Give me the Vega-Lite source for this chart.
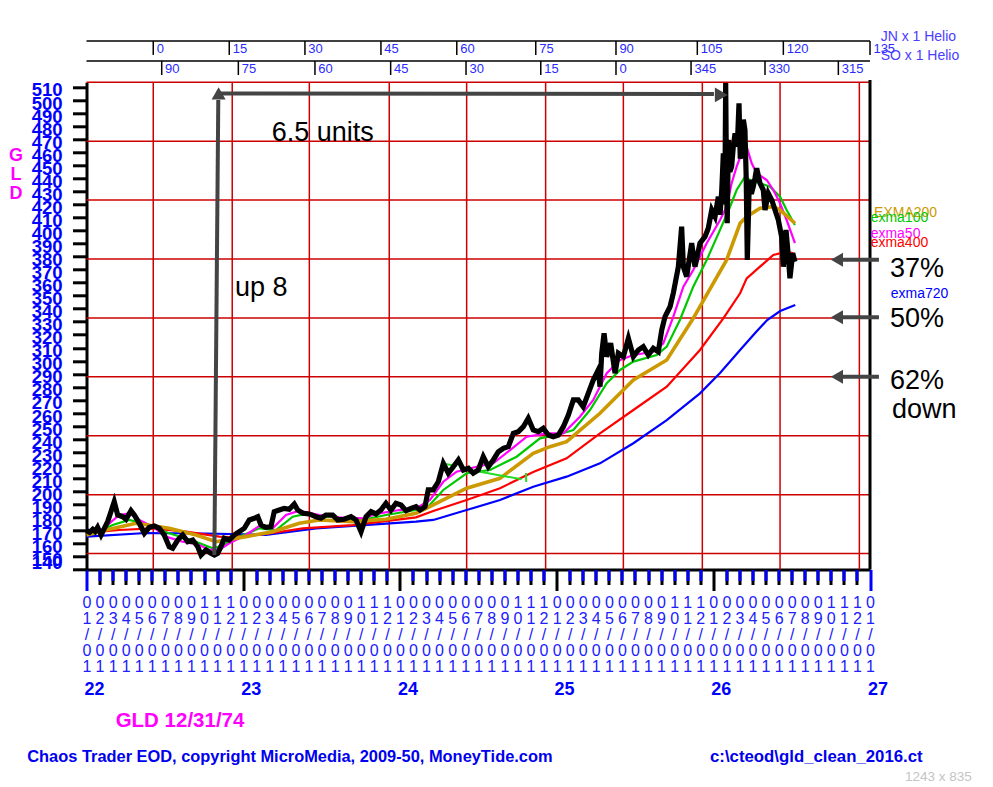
{
  "$schema": "https://vega.github.io/schema/vega-lite/v6.json",
  "width": 783.5,
  "height": 487.2,
  "autosize": {"type": "none"},
  "padding": {"left": 86.5, "top": 82.3, "right": 123, "bottom": 217.5},
  "background": "white",
  "config": {
    "font": "Liberation Sans",
    "view": {"stroke": null},
    "axis": {"labelFont": "Liberation Sans", "titleFont": "Liberation Sans"},
    "text": {"font": "Liberation Sans"}
  },
  "data": {"values": [{}]},
  "datasets": {
    "price": [
      {"t":22.0,"p":169.8},{"t":22.020,"p":168.5},{"t":22.040,"p":170.8},{"t":22.055,"p":169.2},{"t":22.071,"p":172.4},{"t":22.093,"p":166.5},{"t":22.114,"p":171.6},{"t":22.135,"p":176.7},{"t":22.156,"p":184.3},{"t":22.177,"p":192.0},{"t":22.199,"p":181.8},{"t":22.231,"p":180.5},{"t":22.252,"p":178.5},{"t":22.284,"p":185.1},{"t":22.305,"p":181.8},{"t":22.337,"p":175.4},{"t":22.369,"p":167.8},{"t":22.401,"p":172.4},{"t":22.433,"p":173.4},{"t":22.465,"p":171.6},{"t":22.496,"p":166.5},{"t":22.528,"p":157.5},{"t":22.550,"p":156.3},{"t":22.582,"p":162.6},{"t":22.614,"p":166.5},{"t":22.646,"p":161.3},{"t":22.678,"p":162.6},{"t":22.710,"p":157.5},{"t":22.731,"p":151.1},{"t":22.763,"p":155.0},{"t":22.794,"p":152.4},{"t":22.816,"p":151.1},{"t":22.837,"p":152.4},{"t":22.858,"p":157.5},{"t":22.879,"p":163.9},{"t":22.911,"p":162.6},{"t":22.943,"p":166.5},{"t":22.975,"p":169.0},{"t":23.007,"p":171.6},{"t":23.039,"p":178.0},{"t":23.071,"p":179.3},{"t":23.093,"p":180.5},{"t":23.114,"p":174.1},{"t":23.145,"p":172.4},{"t":23.177,"p":172.8},{"t":23.198,"p":184.3},{"t":23.230,"p":185.6},{"t":23.262,"p":186.9},{"t":23.294,"p":186.2},{"t":23.326,"p":190.2},{"t":23.348,"p":185.6},{"t":23.380,"p":183.1},{"t":23.422,"p":182.6},{"t":23.465,"p":180.5},{"t":23.496,"p":179.3},{"t":23.528,"p":181.8},{"t":23.571,"p":181.8},{"t":23.603,"p":178.0},{"t":23.645,"p":178.5},{"t":23.688,"p":180.5},{"t":23.720,"p":178.0},{"t":23.752,"p":169.0},{"t":23.784,"p":180.5},{"t":23.816,"p":184.3},{"t":23.847,"p":182.6},{"t":23.879,"p":185.6},{"t":23.911,"p":190.8},{"t":23.943,"p":185.6},{"t":23.975,"p":190.8},{"t":24.007,"p":189.5},{"t":24.039,"p":185.1},{"t":24.071,"p":186.9},{"t":24.103,"p":188.2},{"t":24.128,"p":185.6},{"t":24.160,"p":188.2},{"t":24.181,"p":201.0},{"t":24.213,"p":201.0},{"t":24.245,"p":207.3},{"t":24.277,"p":221.4},{"t":24.309,"p":213.8},{"t":24.341,"p":218.8},{"t":24.373,"p":224.0},{"t":24.405,"p":216.3},{"t":24.437,"p":217.6},{"t":24.468,"p":213.8},{"t":24.500,"p":216.3},{"t":24.532,"p":226.5},{"t":24.564,"p":218.8},{"t":24.596,"p":224.0},{"t":24.628,"p":230.3},{"t":24.660,"p":232.9},{"t":24.692,"p":234.2},{"t":24.724,"p":244.4},{"t":24.756,"p":245.7},{"t":24.788,"p":249.5},{"t":24.819,"p":256.0},{"t":24.851,"p":247.0},{"t":24.883,"p":245.7},{"t":24.915,"p":248.3},{"t":24.947,"p":243.1},{"t":24.979,"p":241.8},{"t":25.011,"p":243.1},{"t":25.043,"p":249.5},{"t":25.075,"p":258.5},{"t":25.107,"p":270.0},{"t":25.138,"p":270.0},{"t":25.170,"p":264.8},{"t":25.202,"p":275.1},{"t":25.234,"p":285.3},{"t":25.266,"p":293.0},{"t":25.277,"p":280.2},{"t":25.288,"p":305.8},{"t":25.303,"p":321.1},{"t":25.320,"p":303.2},{"t":25.345,"p":313.5},{"t":25.373,"p":290.5},{"t":25.394,"p":305.8},{"t":25.426,"p":303.2},{"t":25.458,"p":317.3},{"t":25.490,"p":303.2},{"t":25.521,"p":308.3},{"t":25.553,"p":310.9},{"t":25.585,"p":304.5},{"t":25.617,"p":309.6},{"t":25.649,"p":307.0},{"t":25.671,"p":323.7},{"t":25.692,"p":333.9},{"t":25.724,"p":341.5},{"t":25.745,"p":352.0},{"t":25.777,"p":372.2},{"t":25.798,"p":402.9},{"t":25.809,"p":372.2},{"t":25.830,"p":364.5},{"t":25.862,"p":390.2},{"t":25.883,"p":372.2},{"t":25.915,"p":390.2},{"t":25.947,"p":395.2},{"t":25.968,"p":401.7},{"t":25.990,"p":415.7},{"t":26.011,"p":410.6},{"t":26.032,"p":425.9},{"t":26.043,"p":412.0},{"t":26.054,"p":431.0},{"t":26.064,"p":459.2},{"t":26.070,"p":420.0},{"t":26.075,"p":443.8},{"t":26.079,"p":513.0},{"t":26.084,"p":440.0},{"t":26.089,"p":405.5},{"t":26.096,"p":469.4},{"t":26.106,"p":445.0},{"t":26.117,"p":448.9},{"t":26.128,"p":465.0},{"t":26.139,"p":474.5},{"t":26.153,"p":464.2},{"t":26.164,"p":497.5},{"t":26.172,"p":455.0},{"t":26.181,"p":464.2},{"t":26.192,"p":485.0},{"t":26.202,"p":477.0},{"t":26.210,"p":440.0},{"t":26.217,"p":377.4},{"t":26.230,"p":438.7},{"t":26.243,"p":428.0},{"t":26.255,"p":433.6},{"t":26.266,"p":440.0},{"t":26.277,"p":447.7},{"t":26.298,"p":436.2},{"t":26.319,"p":431.0},{"t":26.330,"p":415.7},{"t":26.351,"p":428.5},{"t":26.373,"p":423.4},{"t":26.394,"p":415.7},{"t":26.415,"p":408.0},{"t":26.436,"p":395.2},{"t":26.447,"p":372.2},{"t":26.464,"p":400.4},{"t":26.479,"p":379.9},{"t":26.489,"p":363.3},{"t":26.507,"p":382.5},{"t":26.521,"p":376.0}
    ],
    "ema": [
      {"s":"exma720","t":22.0,"p":165.2},{"s":"exma720","t":22.380,"p":168.0},{"s":"exma720","t":22.763,"p":167.6},{"s":"exma720","t":23.145,"p":166.5},{"s":"exma720","t":23.465,"p":171.6},{"s":"exma720","t":23.699,"p":173.4},{"s":"exma720","t":24.103,"p":176.7},{"s":"exma720","t":24.213,"p":178.0},{"s":"exma720","t":24.426,"p":185.6},{"s":"exma720","t":24.639,"p":193.3},{"s":"exma720","t":24.851,"p":203.5},{"s":"exma720","t":25.064,"p":211.2},{"s":"exma720","t":25.277,"p":221.4},{"s":"exma720","t":25.490,"p":236.8},{"s":"exma720","t":25.703,"p":254.6},{"s":"exma720","t":25.915,"p":275.1},{"s":"exma720","t":26.043,"p":290.7},{"s":"exma720","t":26.171,"p":308.3},{"s":"exma720","t":26.267,"p":321.4},{"s":"exma720","t":26.344,"p":331.3},{"s":"exma720","t":26.427,"p":338.2},{"s":"exma720","t":26.523,"p":342.8},
      {"s":"exma400","t":22.0,"p":168.0},{"s":"exma400","t":22.209,"p":170.3},{"s":"exma400","t":22.422,"p":171.6},{"s":"exma400","t":22.635,"p":169.0},{"s":"exma400","t":22.847,"p":165.2},{"s":"exma400","t":22.909,"p":164.9},{"s":"exma400","t":23.145,"p":167.2},{"s":"exma400","t":23.380,"p":171.6},{"s":"exma400","t":23.699,"p":174.1},{"s":"exma400","t":24.103,"p":180.0},{"s":"exma400","t":24.213,"p":184.9},{"s":"exma400","t":24.426,"p":193.3},{"s":"exma400","t":24.639,"p":202.3},{"s":"exma400","t":24.851,"p":214.8},{"s":"exma400","t":25.064,"p":225.3},{"s":"exma400","t":25.277,"p":244.4},{"s":"exma400","t":25.490,"p":262.3},{"s":"exma400","t":25.703,"p":280.2},{"s":"exma400","t":25.915,"p":308.3},{"s":"exma400","t":26.064,"p":332.6},{"s":"exma400","t":26.171,"p":351.8},{"s":"exma400","t":26.213,"p":363.3},{"s":"exma400","t":26.298,"p":372.2},{"s":"exma400","t":26.383,"p":381.2},{"s":"exma400","t":26.468,"p":383.7},{"s":"exma400","t":26.511,"p":382.5},
      {"s":"exma200","t":22.0,"p":166.5},{"s":"exma200","t":22.124,"p":170.3},{"s":"exma200","t":22.316,"p":175.4},{"s":"exma200","t":22.528,"p":171.6},{"s":"exma200","t":22.699,"p":166.5},{"s":"exma200","t":22.826,"p":161.3},{"s":"exma200","t":22.890,"p":162.6},{"s":"exma200","t":23.018,"p":165.2},{"s":"exma200","t":23.188,"p":169.0},{"s":"exma200","t":23.358,"p":175.4},{"s":"exma200","t":23.486,"p":178.0},{"s":"exma200","t":23.699,"p":176.7},{"s":"exma200","t":23.911,"p":178.5},{"s":"exma200","t":24.103,"p":183.1},{"s":"exma200","t":24.213,"p":189.5},{"s":"exma200","t":24.426,"p":202.3},{"s":"exma200","t":24.639,"p":209.9},{"s":"exma200","t":24.851,"p":229.1},{"s":"exma200","t":24.958,"p":234.2},{"s":"exma200","t":25.064,"p":238.0},{"s":"exma200","t":25.277,"p":259.8},{"s":"exma200","t":25.490,"p":285.3},{"s":"exma200","t":25.703,"p":300.7},{"s":"exma200","t":25.872,"p":332.6},{"s":"exma200","t":26.085,"p":377.4},{"s":"exma200","t":26.171,"p":405.5},{"s":"exma200","t":26.213,"p":410.6},{"s":"exma200","t":26.298,"p":417.0},{"s":"exma200","t":26.383,"p":418.2},{"s":"exma200","t":26.426,"p":415.7},{"s":"exma200","t":26.521,"p":405.5},
      {"s":"exma100","t":22.03,"p":167.5},{"s":"exma100","t":22.061,"p":168.2},{"s":"exma100","t":22.167,"p":174.1},{"s":"exma100","t":22.273,"p":178.0},{"s":"exma100","t":22.359,"p":175.4},{"s":"exma100","t":22.528,"p":167.8},{"s":"exma100","t":22.699,"p":161.3},{"s":"exma100","t":22.805,"p":156.3},{"s":"exma100","t":22.847,"p":157.5},{"s":"exma100","t":22.954,"p":163.9},{"s":"exma100","t":23.103,"p":171.6},{"s":"exma100","t":23.209,"p":170.3},{"s":"exma100","t":23.316,"p":180.5},{"s":"exma100","t":23.401,"p":182.6},{"s":"exma100","t":23.613,"p":179.3},{"s":"exma100","t":23.763,"p":178.0},{"s":"exma100","t":23.911,"p":181.8},{"s":"exma100","t":24.103,"p":185.6},{"s":"exma100","t":24.171,"p":186.9},{"s":"exma100","t":24.277,"p":201.0},{"s":"exma100","t":24.426,"p":213.8},{"s":"exma100","t":24.575,"p":216.3},{"s":"exma100","t":24.745,"p":226.5},{"s":"exma100","t":24.894,"p":240.6},{"s":"exma100","t":25.001,"p":243.1},{"s":"exma100","t":25.107,"p":247.0},{"s":"exma100","t":25.213,"p":262.3},{"s":"exma100","t":25.320,"p":282.8},{"s":"exma100","t":25.405,"p":293.0},{"s":"exma100","t":25.490,"p":299.4},{"s":"exma100","t":25.639,"p":304.5},{"s":"exma100","t":25.703,"p":310.9},{"s":"exma100","t":25.787,"p":331.3},{"s":"exma100","t":25.872,"p":356.9},{"s":"exma100","t":25.958,"p":377.4},{"s":"exma100","t":26.043,"p":400.4},{"s":"exma100","t":26.107,"p":418.2},{"s":"exma100","t":26.149,"p":431.0},{"s":"exma100","t":26.202,"p":441.2},{"s":"exma100","t":26.234,"p":438.7},{"s":"exma100","t":26.298,"p":436.2},{"s":"exma100","t":26.362,"p":433.6},{"s":"exma100","t":26.426,"p":425.9},{"s":"exma100","t":26.468,"p":415.7},{"s":"exma100","t":26.521,"p":404.2},
      {"s":"exma50","t":22.05,"p":168.0},{"s":"exma50","t":22.082,"p":169.0},{"s":"exma50","t":22.146,"p":175.4},{"s":"exma50","t":22.209,"p":181.8},{"s":"exma50","t":22.273,"p":183.1},{"s":"exma50","t":22.337,"p":178.0},{"s":"exma50","t":22.422,"p":172.8},{"s":"exma50","t":22.507,"p":165.2},{"s":"exma50","t":22.614,"p":161.3},{"s":"exma50","t":22.720,"p":158.8},{"s":"exma50","t":22.784,"p":155.0},{"s":"exma50","t":22.847,"p":155.0},{"s":"exma50","t":22.911,"p":160.1},{"s":"exma50","t":23.018,"p":166.5},{"s":"exma50","t":23.103,"p":173.4},{"s":"exma50","t":23.188,"p":171.6},{"s":"exma50","t":23.273,"p":181.8},{"s":"exma50","t":23.358,"p":185.1},{"s":"exma50","t":23.486,"p":181.8},{"s":"exma50","t":23.613,"p":180.0},{"s":"exma50","t":23.763,"p":179.3},{"s":"exma50","t":23.869,"p":183.1},{"s":"exma50","t":23.996,"p":185.6},{"s":"exma50","t":24.103,"p":186.9},{"s":"exma50","t":24.192,"p":193.3},{"s":"exma50","t":24.277,"p":207.3},{"s":"exma50","t":24.362,"p":215.0},{"s":"exma50","t":24.490,"p":218.8},{"s":"exma50","t":24.596,"p":221.4},{"s":"exma50","t":24.703,"p":231.6},{"s":"exma50","t":24.809,"p":241.8},{"s":"exma50","t":24.937,"p":244.4},{"s":"exma50","t":25.043,"p":244.4},{"s":"exma50","t":25.149,"p":257.2},{"s":"exma50","t":25.234,"p":270.0},{"s":"exma50","t":25.320,"p":290.5},{"s":"exma50","t":25.405,"p":300.7},{"s":"exma50","t":25.490,"p":304.5},{"s":"exma50","t":25.617,"p":307.0},{"s":"exma50","t":25.681,"p":313.5},{"s":"exma50","t":25.745,"p":333.9},{"s":"exma50","t":25.809,"p":356.9},{"s":"exma50","t":25.872,"p":369.7},{"s":"exma50","t":25.958,"p":390.2},{"s":"exma50","t":26.043,"p":408.0},{"s":"exma50","t":26.085,"p":418.2},{"s":"exma50","t":26.117,"p":436.2},{"s":"exma50","t":26.149,"p":448.9},{"s":"exma50","t":26.181,"p":459.2},{"s":"exma50","t":26.213,"p":464.2},{"s":"exma50","t":26.245,"p":451.5},{"s":"exma50","t":26.277,"p":443.8},{"s":"exma50","t":26.341,"p":438.7},{"s":"exma50","t":26.383,"p":431.0},{"s":"exma50","t":26.426,"p":420.8},{"s":"exma50","t":26.468,"p":408.0},{"s":"exma50","t":26.521,"p":390.2}
    ],
    "glitch": [
      {"seg":"a","t":24.267,"p":221.4},{"seg":"a","t":24.352,"p":219.6},
      {"seg":"b","t":24.511,"p":215.0},{"seg":"b","t":24.777,"p":209.2},
      {"seg":"c","t":24.805,"p":214.0},{"seg":"c","t":24.806,"p":207.1}
    ],
    "vgrid": [
      {"t":22.426},{"t":22.930},{"t":23.422},{"t":23.932},{"t":24.426},{"t":24.930},{"t":25.426},{"t":25.930},{"t":26.426},{"t":26.932}
    ],
    "hgrid": [
      {"p":513.6},{"p":468.4},{"p":423.3},{"p":378.1},{"p":332.9},{"p":287.8},{"p":242.6},{"p":197.4},{"p":152.3}
    ],
    "scale1": [
      {"t":22.426,"a":"0"},{"t":22.911,"a":"15"},{"t":23.394,"a":"30"},{"t":23.879,"a":"45"},{"t":24.363,"a":"60"},{"t":24.867,"a":"75"},{"t":25.379,"a":"90"},{"t":25.898,"a":"105"},{"t":26.447,"a":"120"},{"t":27.0,"a":"135"}
    ],
    "scale2": [
      {"t":22.480,"a":"90"},{"t":22.969,"a":"75"},{"t":23.458,"a":"60"},{"t":23.941,"a":"45"},{"t":24.422,"a":"30"},{"t":24.899,"a":"15"},{"t":25.379,"a":"0"},{"t":25.858,"a":"345"},{"t":26.330,"a":"330"},{"t":26.798,"a":"315"}
    ],
    "levels": [
      {"pct":"37%","p":377.5},{"pct":"50%","p":333.4},{"pct":"62%","p":287.8}
    ]
  },
  "resolve": {"axis": {"x": "independent", "y": "independent"}},
  "layer": [
    {
      "data": {"name": "vgrid"},
      "mark": {"type": "rule", "color": "#cc0000", "strokeWidth": 1.5},
      "encoding": {
        "x": {"field": "t", "type": "quantitative", "scale": {"domain": [22, 27], "nice": false, "zero": false},
          "axis": {"orient": "bottom", "title": null, "grid": false, "labels": false, "domain": true, "domainColor": "black", "domainWidth": 3,
            "tickSize": 15, "tickWidth": 3, "tickColor": "black",
            "values": [22.0833,22.1667,22.25,22.3333,22.4167,22.5,22.5833,22.6667,22.75,22.8333,22.9167,23.0833,23.1667,23.25,23.3333,23.4167,23.5,23.5833,23.6667,23.75,23.8333,23.9167,24.0833,24.1667,24.25,24.3333,24.4167,24.5,24.5833,24.6667,24.75,24.8333,24.9167,25.0833,25.1667,25.25,25.3333,25.4167,25.5,25.5833,25.6667,25.75,25.8333,25.9167,26.0833,26.1667,26.25,26.3333,26.4167,26.5,26.5833,26.6667,26.75,26.8333,26.9167]}}
      }
    },
    {
      "data": {"name": "hgrid"},
      "mark": {"type": "rule", "color": "#cc0000", "strokeWidth": 1.5},
      "encoding": {
        "y": {"field": "p", "type": "quantitative", "scale": {"domain": [140, 513.6], "nice": false, "zero": false}, "axis": null}
      }
    },
    {
      "data": {"name": "ema"},
      "transform": [{"filter": "datum.s != 'exma200'"}],
      "mark": {"type": "line", "strokeWidth": 2.2},
      "encoding": {
        "x": {"field": "t", "type": "quantitative", "scale": {"domain": [22, 27], "nice": false, "zero": false},
          "axis": {"orient": "bottom", "title": null, "grid": false, "labels": false, "domain": false, "zindex": 1,
            "tickSize": 11, "tickWidth": 3, "tickColor": "#0000ff",
            "values": [22.0833,22.1667,22.25,22.3333,22.4167,22.5,22.5833,22.6667,22.75,22.8333,22.9167,23.0833,23.1667,23.25,23.3333,23.4167,23.5,23.5833,23.6667,23.75,23.8333,23.9167,24.0833,24.1667,24.25,24.3333,24.4167,24.5,24.5833,24.6667,24.75,24.8333,24.9167,25.0833,25.1667,25.25,25.3333,25.4167,25.5,25.5833,25.6667,25.75,25.8333,25.9167,26.0833,26.1667,26.25,26.3333,26.4167,26.5,26.5833,26.6667,26.75,26.8333,26.9167]}},
        "y": {"field": "p", "type": "quantitative", "scale": {"domain": [140, 513.6], "nice": false, "zero": false}, "axis": null},
        "color": {"field": "s", "type": "nominal", "legend": null,
          "scale": {"domain": ["exma720", "exma400", "exma200", "exma100", "exma50"], "range": ["#0000ff", "#ff0000", "#cc9900", "#00c800", "#ff00ff"]}}
      }
    },
    {
      "data": {"name": "ema"},
      "transform": [{"filter": "datum.s == 'exma200'"}],
      "mark": {"type": "line", "strokeWidth": 3.6, "color": "#cc9900"},
      "encoding": {
        "x": {"field": "t", "type": "quantitative", "scale": {"domain": [22, 27], "nice": false, "zero": false}, "axis": null},
        "y": {"field": "p", "type": "quantitative", "scale": {"domain": [140, 513.6], "nice": false, "zero": false}, "axis": null}
      }
    },
    {
      "data": {"name": "glitch"},
      "mark": {"type": "line", "strokeWidth": 2, "color": "#22dd22"},
      "encoding": {
        "x": {"field": "t", "type": "quantitative", "scale": {"domain": [22, 27], "nice": false, "zero": false},
          "axis": {"orient": "bottom", "title": null, "grid": false, "domain": false, "ticks": true, "tickSize": 15, "tickOpacity": 0,
            "labelExpr": "split(format(round((datum.value - floor(datum.value + 0.001)) * 12) + 1, '02d') + '/01', '')",
            "labelFontSize": 16, "labelLineHeight": 15.8, "labelColor": "#2020ff", "labelAlign": "center", "labelBaseline": "top",
            "labelPadding": 10.4, "labelOverlap": false, "labelFlush": false, "labelBound": false,
            "values": [22,22.0833,22.1667,22.25,22.3333,22.4167,22.5,22.5833,22.6667,22.75,22.8333,22.9167,23,23.0833,23.1667,23.25,23.3333,23.4167,23.5,23.5833,23.6667,23.75,23.8333,23.9167,24,24.0833,24.1667,24.25,24.3333,24.4167,24.5,24.5833,24.6667,24.75,24.8333,24.9167,25,25.0833,25.1667,25.25,25.3333,25.4167,25.5,25.5833,25.6667,25.75,25.8333,25.9167,26,26.0833,26.1667,26.25,26.3333,26.4167,26.5,26.5833,26.6667,26.75,26.8333,26.9167,27]}},
        "y": {"field": "p", "type": "quantitative", "scale": {"domain": [140, 513.6], "nice": false, "zero": false}, "axis": null},
        "detail": {"field": "seg", "type": "nominal"}
      }
    },
    {
      "data": {"name": "price"},
      "mark": {"type": "line", "strokeWidth": 5.2, "color": "black", "strokeJoin": "miter"},
      "encoding": {
        "x": {"field": "t", "type": "quantitative", "scale": {"domain": [22, 27], "nice": false, "zero": false},
          "axis": {"orient": "bottom", "title": null, "grid": false, "domain": false, "format": "d",
            "values": [22, 23, 24, 25, 26, 27],
            "tickSize": 21, "tickWidth": 3,
            "tickColor": {"condition": {"test": "datum.value == 22 || datum.value == 27", "value": "#0000ff"}, "value": "black"},
            "labelFontSize": 18, "labelFontWeight": "bold", "labelColor": "#0000ff", "labelAlign": "left", "labelOffset": -2.5,
            "labelPadding": 89.9, "labelBaseline": "top", "labelFlush": false, "labelOverlap": false, "labelBound": false}},
        "y": {"field": "p", "type": "quantitative", "scale": {"domain": [140, 513.6], "nice": false, "zero": false},
          "axis": {"orient": "left", "grid": false,
            "values": [140,150,160,170,180,190,200,210,220,230,240,250,260,270,280,290,300,310,320,330,340,350,360,370,380,390,400,410,420,430,440,450,460,470,480,490,500,510],
            "labelColor": "#0000ff", "labelFontSize": 18.5, "labelFontWeight": "bold", "labelPadding": 10.5, "labelOffset": 3,
            "labelBaseline": {"condition": {"test": "datum.value == 140", "value": "bottom"}, "value": "middle"},
            "labelOverlap": false, "labelBound": false, "labelFlush": false,
            "tickColor": "black", "tickWidth": 3, "tickSize": 14, "domainColor": "black", "domainWidth": 3,
            "title": ["G", "L", "D"], "titleAngle": 0, "titleColor": "#ff00ff", "titleFontSize": 18, "titleFontWeight": "bold",
            "titleLineHeight": 19, "titleAlign": "center", "titleBaseline": "top", "titleX": -71, "titleY": 64}}
      }
    },
    {
      "mark": {"type": "rule", "color": "black", "strokeWidth": 3},
      "encoding": {
        "x": {"datum": 27, "type": "quantitative", "scale": {"domain": [22, 27], "nice": false, "zero": false}, "axis": null},
        "y": {"datum": 140, "type": "quantitative", "scale": {"domain": [140, 513.6], "nice": false, "zero": false}, "axis": null},
        "y2": {"datum": 515.4}
      }
    },
    {
      "mark": {"type": "rule", "color": "black", "strokeWidth": 1.5},
      "encoding": {
        "x": {"datum": 22, "type": "quantitative", "scale": {"domain": [22, 27], "nice": false, "zero": false}, "axis": null},
        "x2": {"datum": 27},
        "y": {"datum": 545.3, "type": "quantitative", "scale": {"domain": [140, 513.6], "nice": false, "zero": false}, "axis": null}
      }
    },
    {
      "mark": {"type": "rule", "color": "black", "strokeWidth": 1.5},
      "encoding": {
        "x": {"datum": 22, "type": "quantitative", "scale": {"domain": [22, 27], "nice": false, "zero": false}, "axis": null},
        "x2": {"datum": 27},
        "y": {"datum": 530.0, "type": "quantitative", "scale": {"domain": [140, 513.6], "nice": false, "zero": false}, "axis": null}
      }
    },
    {
      "data": {"name": "scale1"},
      "mark": {"type": "rule", "color": "black", "strokeWidth": 1.5},
      "encoding": {
        "x": {"field": "t", "type": "quantitative", "scale": {"domain": [22, 27], "nice": false, "zero": false}, "axis": null},
        "y": {"datum": 545.3, "type": "quantitative", "scale": {"domain": [140, 513.6], "nice": false, "zero": false}, "axis": null},
        "y2": {"datum": 534.6}
      }
    },
    {
      "data": {"name": "scale1"},
      "mark": {"type": "text", "align": "left", "baseline": "alphabetic", "dx": 3.4, "fontSize": 13, "color": "#2a2aff"},
      "encoding": {
        "x": {"field": "t", "type": "quantitative", "scale": {"domain": [22, 27], "nice": false, "zero": false}, "axis": null},
        "y": {"datum": 535.9, "type": "quantitative", "scale": {"domain": [140, 513.6], "nice": false, "zero": false}, "axis": null},
        "text": {"field": "a", "type": "nominal"}
      }
    },
    {
      "data": {"name": "scale2"},
      "mark": {"type": "rule", "color": "black", "strokeWidth": 1.5},
      "encoding": {
        "x": {"field": "t", "type": "quantitative", "scale": {"domain": [22, 27], "nice": false, "zero": false}, "axis": null},
        "y": {"datum": 530.0, "type": "quantitative", "scale": {"domain": [140, 513.6], "nice": false, "zero": false}, "axis": null},
        "y2": {"datum": 519.2}
      }
    },
    {
      "data": {"name": "scale2"},
      "mark": {"type": "text", "align": "left", "baseline": "alphabetic", "dx": 3.4, "fontSize": 13, "color": "#2a2aff"},
      "encoding": {
        "x": {"field": "t", "type": "quantitative", "scale": {"domain": [22, 27], "nice": false, "zero": false}, "axis": null},
        "y": {"datum": 520.5, "type": "quantitative", "scale": {"domain": [140, 513.6], "nice": false, "zero": false}, "axis": null},
        "text": {"field": "a", "type": "nominal"}
      }
    },
    {
      "mark": {"type": "rule", "color": "#444444", "strokeWidth": 4},
      "encoding": {
        "x": {"datum": 22.816, "type": "quantitative", "scale": {"domain": [22, 27], "nice": false, "zero": false}, "axis": null},
        "x2": {"datum": 22.841},
        "y": {"datum": 151.1, "type": "quantitative", "scale": {"domain": [140, 513.6], "nice": false, "zero": false}, "axis": null},
        "y2": {"datum": 500.1}
      }
    },
    {
      "mark": {"type": "rule", "color": "#444444", "strokeWidth": 4},
      "encoding": {
        "x": {"datum": 22.831, "type": "quantitative", "scale": {"domain": [22, 27], "nice": false, "zero": false}, "axis": null},
        "x2": {"datum": 26.004},
        "y": {"datum": 505.1, "type": "quantitative", "scale": {"domain": [140, 513.6], "nice": false, "zero": false}, "axis": null},
        "y2": {"datum": 504.6}
      }
    },
    {
      "mark": {"type": "point", "shape": "triangle-up", "filled": true, "opacity": 1, "size": 196, "color": "#444444"},
      "encoding": {
        "x": {"datum": 22.843, "type": "quantitative", "scale": {"domain": [22, 27], "nice": false, "zero": false}, "axis": null},
        "y": {"datum": 505.1, "type": "quantitative", "scale": {"domain": [140, 513.6], "nice": false, "zero": false}, "axis": null}
      }
    },
    {
      "mark": {"type": "point", "shape": "triangle-right", "filled": true, "opacity": 1, "size": 220, "color": "#444444"},
      "encoding": {
        "x": {"datum": 26.051, "type": "quantitative", "scale": {"domain": [22, 27], "nice": false, "zero": false}, "axis": null},
        "y": {"datum": 503.9, "type": "quantitative", "scale": {"domain": [140, 513.6], "nice": false, "zero": false}, "axis": null}
      }
    },
    {
      "data": {"name": "levels"},
      "mark": {"type": "rule", "color": "#444444", "strokeWidth": 4},
      "encoding": {
        "x": {"datum": 26.827, "type": "quantitative", "scale": {"domain": [22, 27], "nice": false, "zero": false}, "axis": null},
        "x2": {"datum": 27.057},
        "y": {"field": "p", "type": "quantitative", "scale": {"domain": [140, 513.6], "nice": false, "zero": false}, "axis": null}
      }
    },
    {
      "data": {"name": "levels"},
      "mark": {"type": "point", "shape": "triangle-left", "filled": true, "opacity": 1, "size": 196, "color": "#444444"},
      "encoding": {
        "x": {"datum": 26.789, "type": "quantitative", "scale": {"domain": [22, 27], "nice": false, "zero": false}, "axis": null},
        "y": {"field": "p", "type": "quantitative", "scale": {"domain": [140, 513.6], "nice": false, "zero": false}, "axis": null}
      }
    },
    {
      "mark": {"type": "text", "text": "6.5 units", "align": "left", "baseline": "alphabetic", "fontSize": 27, "color": "black"},
      "encoding": {
        "x": {"datum": 23.182, "type": "quantitative", "scale": {"domain": [22, 27], "nice": false, "zero": false}, "axis": null},
        "y": {"datum": 468.6, "type": "quantitative", "scale": {"domain": [140, 513.6], "nice": false, "zero": false}, "axis": null}
      }
    },
    {
      "mark": {"type": "text", "text": "up 8", "align": "left", "baseline": "alphabetic", "fontSize": 27, "color": "black"},
      "encoding": {
        "x": {"datum": 22.948, "type": "quantitative", "scale": {"domain": [22, 27], "nice": false, "zero": false}, "axis": null},
        "y": {"datum": 349.7, "type": "quantitative", "scale": {"domain": [140, 513.6], "nice": false, "zero": false}, "axis": null}
      }
    },
    {
      "mark": {"type": "text", "text": "37%", "align": "left", "baseline": "alphabetic", "fontSize": 27, "color": "black"},
      "encoding": {
        "x": {"datum": 27.128, "type": "quantitative", "scale": {"domain": [22, 27], "nice": false, "zero": false}, "axis": null},
        "y": {"datum": 364.5, "type": "quantitative", "scale": {"domain": [140, 513.6], "nice": false, "zero": false}, "axis": null}
      }
    },
    {
      "mark": {"type": "text", "text": "50%", "align": "left", "baseline": "alphabetic", "fontSize": 27, "color": "black"},
      "encoding": {
        "x": {"datum": 27.128, "type": "quantitative", "scale": {"domain": [22, 27], "nice": false, "zero": false}, "axis": null},
        "y": {"datum": 326.0, "type": "quantitative", "scale": {"domain": [140, 513.6], "nice": false, "zero": false}, "axis": null}
      }
    },
    {
      "mark": {"type": "text", "text": "62%", "align": "left", "baseline": "alphabetic", "fontSize": 27, "color": "black"},
      "encoding": {
        "x": {"datum": 27.128, "type": "quantitative", "scale": {"domain": [22, 27], "nice": false, "zero": false}, "axis": null},
        "y": {"datum": 278.4, "type": "quantitative", "scale": {"domain": [140, 513.6], "nice": false, "zero": false}, "axis": null}
      }
    },
    {
      "mark": {"type": "text", "text": "down", "align": "left", "baseline": "alphabetic", "fontSize": 27, "color": "black"},
      "encoding": {
        "x": {"datum": 27.140, "type": "quantitative", "scale": {"domain": [22, 27], "nice": false, "zero": false}, "axis": null},
        "y": {"datum": 256.2, "type": "quantitative", "scale": {"domain": [140, 513.6], "nice": false, "zero": false}, "axis": null}
      }
    },
    {
      "mark": {"type": "text", "text": "EXMA200", "align": "left", "baseline": "alphabetic", "fontSize": 14, "color": "#cc9900"},
      "encoding": {
        "x": {"datum": 27.026, "type": "quantitative", "scale": {"domain": [22, 27], "nice": false, "zero": false}, "axis": null},
        "y": {"datum": 410.6, "type": "quantitative", "scale": {"domain": [140, 513.6], "nice": false, "zero": false}, "axis": null}
      }
    },
    {
      "mark": {"type": "text", "text": "exma100", "align": "left", "baseline": "alphabetic", "fontSize": 14, "color": "#00c800"},
      "encoding": {
        "x": {"datum": 27.004, "type": "quantitative", "scale": {"domain": [22, 27], "nice": false, "zero": false}, "axis": null},
        "y": {"datum": 406.7, "type": "quantitative", "scale": {"domain": [140, 513.6], "nice": false, "zero": false}, "axis": null}
      }
    },
    {
      "mark": {"type": "text", "text": "exma50", "align": "left", "baseline": "alphabetic", "fontSize": 14, "color": "#ff00ff"},
      "encoding": {
        "x": {"datum": 27.004, "type": "quantitative", "scale": {"domain": [22, 27], "nice": false, "zero": false}, "axis": null},
        "y": {"datum": 394.0, "type": "quantitative", "scale": {"domain": [140, 513.6], "nice": false, "zero": false}, "axis": null}
      }
    },
    {
      "mark": {"type": "text", "text": "exma400", "align": "left", "baseline": "alphabetic", "fontSize": 14, "color": "#ff0000"},
      "encoding": {
        "x": {"datum": 27.004, "type": "quantitative", "scale": {"domain": [22, 27], "nice": false, "zero": false}, "axis": null},
        "y": {"datum": 387.6, "type": "quantitative", "scale": {"domain": [140, 513.6], "nice": false, "zero": false}, "axis": null}
      }
    },
    {
      "mark": {"type": "text", "text": "exma720", "align": "left", "baseline": "alphabetic", "fontSize": 14, "color": "#0000ff"},
      "encoding": {
        "x": {"datum": 27.132, "type": "quantitative", "scale": {"domain": [22, 27], "nice": false, "zero": false}, "axis": null},
        "y": {"datum": 348.0, "type": "quantitative", "scale": {"domain": [140, 513.6], "nice": false, "zero": false}, "axis": null}
      }
    },
    {
      "mark": {"type": "text", "text": "JN x 1 Helio", "align": "left", "baseline": "alphabetic", "fontSize": 14, "color": "#4b3cff"},
      "encoding": {
        "x": {"datum": 27.068, "type": "quantitative", "scale": {"domain": [22, 27], "nice": false, "zero": false}, "axis": null},
        "y": {"datum": 545.3, "type": "quantitative", "scale": {"domain": [140, 513.6], "nice": false, "zero": false}, "axis": null}
      }
    },
    {
      "mark": {"type": "text", "text": "SO x 1 Helio", "align": "left", "baseline": "alphabetic", "fontSize": 14, "color": "#4b3cff"},
      "encoding": {
        "x": {"datum": 27.068, "type": "quantitative", "scale": {"domain": [22, 27], "nice": false, "zero": false}, "axis": null},
        "y": {"datum": 530.7, "type": "quantitative", "scale": {"domain": [140, 513.6], "nice": false, "zero": false}, "axis": null}
      }
    },
    {
      "mark": {"type": "text", "text": "GLD 12/31/74", "align": "left", "baseline": "alphabetic", "fontSize": 20.5, "fontWeight": "bold", "color": "#ff00ff"},
      "encoding": {
        "x": {"datum": 22.186, "type": "quantitative", "scale": {"domain": [22, 27], "nice": false, "zero": false}, "axis": null},
        "y": {"datum": 19.4, "type": "quantitative", "scale": {"domain": [140, 513.6], "nice": false, "zero": false}, "axis": null}
      }
    },
    {
      "mark": {"type": "text", "text": "Chaos Trader EOD, copyright MicroMedia, 2009-50, MoneyTide.com", "align": "left", "baseline": "alphabetic", "fontSize": 16.4, "fontWeight": "bold", "color": "#0000ee"},
      "encoding": {
        "x": {"datum": 21.622, "type": "quantitative", "scale": {"domain": [22, 27], "nice": false, "zero": false}, "axis": null},
        "y": {"datum": -7.4, "type": "quantitative", "scale": {"domain": [140, 513.6], "nice": false, "zero": false}, "axis": null}
      }
    },
    {
      "mark": {"type": "text", "text": "c:\\cteod\\gld_clean_2016.ct", "align": "left", "baseline": "alphabetic", "fontSize": 16.8, "fontWeight": "bold", "color": "#0000ee"},
      "encoding": {
        "x": {"datum": 25.979, "type": "quantitative", "scale": {"domain": [22, 27], "nice": false, "zero": false}, "axis": null},
        "y": {"datum": -7.4, "type": "quantitative", "scale": {"domain": [140, 513.6], "nice": false, "zero": false}, "axis": null}
      }
    },
    {
      "mark": {"type": "text", "text": "1243 x 835", "align": "left", "baseline": "alphabetic", "fontSize": 13.5, "color": "#c4c4c4"},
      "encoding": {
        "x": {"datum": 27.223, "type": "quantitative", "scale": {"domain": [22, 27], "nice": false, "zero": false}, "axis": null},
        "y": {"datum": -22.2, "type": "quantitative", "scale": {"domain": [140, 513.6], "nice": false, "zero": false}, "axis": null}
      }
    }
  ]
}
